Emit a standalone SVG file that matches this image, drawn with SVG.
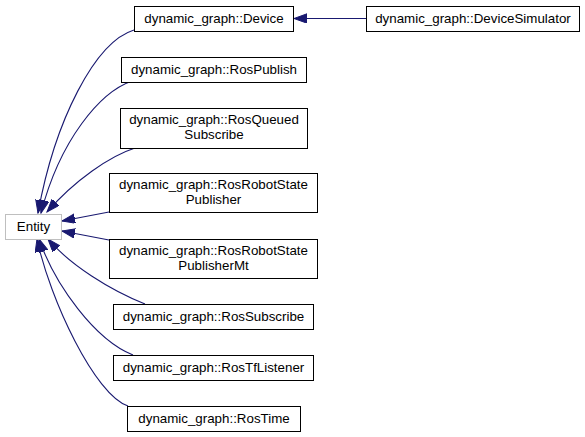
<svg xmlns="http://www.w3.org/2000/svg" width="585" height="437" viewBox="0 0 585 437">
<style>
.n rect{fill:#fff;stroke:#000;stroke-width:1}
.g rect{fill:#fff;stroke:#bfbfbf;stroke-width:1}
text{font-family:"Liberation Sans",Arial,sans-serif;font-size:13.33px;text-anchor:middle;fill:#000}
.e path{fill:none;stroke:#191970;stroke-width:1.1;marker-end:url(#ah)}
</style>
<defs>
<marker id="ah" markerUnits="userSpaceOnUse" markerWidth="14" markerHeight="10" refX="13" refY="4.7" orient="auto">
<path d="M0,0 L13,4.7 L0,9.4 z" fill="#191970" stroke="#191970" stroke-width="1"/>
</marker>
</defs>
<rect width="585" height="437" fill="#fff"/>
<g class="e" id="edges">
<path d="M366,18.5 L294,18.5"/>
<path d="M134,30 C95,42 55,120 38,213"/>
<path d="M132,81 C100,92 60,140 41,213"/>
<path d="M135,148 C110,156 75,180 47,212"/>
<path d="M109,212 L62,221"/>
<path d="M109,240 L62,231"/>
<path d="M145,304 C110,290 70,265 48,239"/>
<path d="M133,355 C95,340 55,285 39,239"/>
<path d="M128,406 C95,395 50,300 37,239"/>
</g>
<g class="g" id="entity"><rect x="5.5" y="214.5" width="56" height="25"/><text x="33.5" y="231">Entity</text></g>
<g class="n" id="device"><rect x="134.5" y="6.5" width="159" height="25"/><text x="214" y="23">dynamic_graph::Device</text></g>
<g class="n" id="devicesimulator"><rect x="366.5" y="6.5" width="213" height="25"/><text x="473" y="23">dynamic_graph::DeviceSimulator</text></g>
<g class="n" id="rospublish"><rect x="121.5" y="57.5" width="185" height="25"/><text x="214" y="74">dynamic_graph::RosPublish</text></g>
<g class="n" id="rosqueuedsubscribe"><rect x="120.5" y="108.5" width="187" height="40"/><text x="214" y="124">dynamic_graph::RosQueued</text><text x="214" y="139">Subscribe</text></g>
<g class="n" id="rosrobotstatepublisher"><rect x="109.5" y="173.5" width="208" height="39"/><text x="213.5" y="189">dynamic_graph::RosRobotState</text><text x="213.5" y="204">Publisher</text></g>
<g class="n" id="rosrobotstatepublishermt"><rect x="109.5" y="239.5" width="208" height="39"/><text x="213.5" y="255">dynamic_graph::RosRobotState</text><text x="213.5" y="270">PublisherMt</text></g>
<g class="n" id="rossubscribe"><rect x="113.5" y="304.5" width="200" height="25"/><text x="213.5" y="321">dynamic_graph::RosSubscribe</text></g>
<g class="n" id="rostflistener"><rect x="113.5" y="355.5" width="200" height="25"/><text x="213.5" y="372">dynamic_graph::RosTfListener</text></g>
<g class="n" id="rostime"><rect x="127.5" y="406.5" width="173" height="25"/><text x="214" y="423">dynamic_graph::RosTime</text></g>
</svg>
